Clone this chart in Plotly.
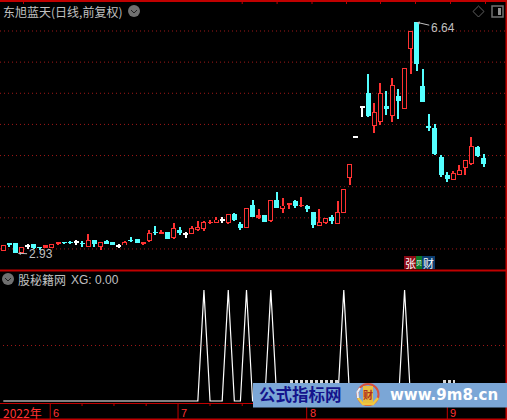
import plotly.graph_objects as go

opens = [2.972,3.085,3.096,2.93,3.042,3.075,3.03,3.02,3.02,3.084,3.11,3.11,3.107,3.09,3.036,3.139,3.036,3.128,3.111,3.047,
3.058,3.14,3.16,3.084,3.132,3.27,3.245,3.272,3.18,3.304,3.24,3.245,3.309,3.325,3.42,3.421,3.46,3.421,3.561,3.40,
3.341,3.706,3.513,3.545,3.454,3.786,3.646,3.706,3.77,3.695,3.69,3.593,3.373,3.421,3.513,3.40,3.582,4.144,4.793,5.275,
5.504,4.979,5.044,5.296,5.14,5.456,5.252,6.216,6.64,5.617,4.96,4.942,4.477,4.188,4.107,4.192,4.305,4.369,4.637,4.46]
closes = [3.063,3.075,2.94,3.026,3.042,3.02,3.02,3.059,3.075,3.107,3.10,3.10,3.107,3.08,3.139,3.075,3.107,3.084,3.068,3.047,
3.111,3.13,3.10,3.111,3.251,3.26,3.277,3.16,3.332,3.256,3.24,3.332,3.352,3.428,3.43,3.465,3.46,3.556,3.465,3.336,
3.653,3.513,3.545,3.433,3.781,3.658,3.69,3.738,3.69,3.705,3.641,3.385,3.433,3.492,3.449,3.588,3.958,4.359,4.793,5.275,
5.135,5.194,5.504,5.248,5.628,5.376,5.901,6.495,5.97,5.36,4.95,4.525,4.188,4.123,4.215,4.263,4.424,4.653,4.493,4.364]
highs = [3.063,3.096,3.096,3.026,3.079,3.075,3.03,3.068,3.075,3.107,3.11,3.128,3.144,3.128,3.24,3.139,3.107,3.144,3.111,3.079,
3.128,3.192,3.16,3.111,3.299,3.364,3.299,3.272,3.417,3.352,3.277,3.364,3.449,3.444,3.465,3.508,3.508,3.556,3.577,3.433,
3.653,3.786,3.641,3.545,3.781,3.915,3.818,3.738,3.786,3.834,3.706,3.593,3.641,3.492,3.545,3.77,3.958,4.359,4.793,5.275,
5.81,5.344,5.665,5.537,5.745,5.569,5.901,6.495,6.64,5.89,5.167,5.007,4.509,4.236,4.252,4.348,4.424,4.798,4.653,4.525]
lows = [2.972,3.031,2.94,2.93,3.004,2.994,2.983,3.02,3.02,3.063,3.075,3.075,3.068,3.031,3.036,3.031,2.988,3.084,3.068,3.015,
3.058,3.111,3.10,3.068,3.116,3.224,3.245,3.16,3.16,3.224,3.171,3.245,3.288,3.288,3.40,3.421,3.412,3.40,3.449,3.304,
3.341,3.513,3.481,3.433,3.437,3.658,3.577,3.641,3.658,3.674,3.593,3.336,3.373,3.40,3.40,3.40,3.582,4.027,4.793,5.124,
5.119,4.862,4.995,5.151,5.039,5.087,5.252,5.81,5.858,5.36,4.894,4.504,4.155,4.075,4.107,4.192,4.188,4.353,4.477,4.316]
xg = [0,0,0,0,0,0,0,0,0,0,0,0,0,0,0,0,0,0,0,0,
0,0,0,0,0,0,0,0,0,0,0,0,0,1,0,0,0,1,0,0,
1,0,0,0,1,0,0,0,0,0,0,0,0,0,0,0,1,0,0,0,
0,0,0,0,0,0,1,0,0,0,0,0,0,0,0,0,0,0,0,0]
price_grid = [6.5,6.0,5.5,5.0,4.5,4.0,3.5,3.0]
month_labels = ["6","7","8","9"]
month_pos = [7.72,28.74,49.9,73.03]
minor_pos = [12.95,18.2,23.5,34.0,39.3,44.55,55.0,60.3,65.5,70.8,78.3,83.5]
year_label = "2022年"
title_text = "东旭蓝天(日线,前复权)"
indicator_text = "股秘籍网"
xg_text = "XG: 0.00"

W, H = 507, 420
RED = "#ff3232"; CYAN = "#54ffff"; WHITE = "#ffffff"; DARKRED = "#c00000"; GREY = "#c0c0c0"
idx = list(range(len(opens)))
FONT = "Noto Sans CJK SC"
LATIN = "Liberation Sans"
ONE_PX = 0.016

def px(x): return x / W
def py(y): return 1 - y / H

kinds = ["w" if c == o else ("r" if c > o else "c") for o, c in zip(opens, closes)]
fig = go.Figure()
colors = {"r": RED, "c": CYAN, "w": WHITE}
# wicks
for k, col in colors.items():
    sel = [i for i in idx if kinds[i] == k and highs[i] > lows[i]]
    fig.add_trace(go.Bar(x=sel, y=[highs[i] - lows[i] for i in sel], base=[lows[i] for i in sel],
                         width=0.17, marker=dict(color=col, line=dict(width=0)), xaxis="x", yaxis="y"))
# red bodies: outer solid, then black interior
sel = [i for i in idx if kinds[i] == "r"]
fig.add_trace(go.Bar(x=sel, y=[closes[i] - opens[i] for i in sel], base=[opens[i] for i in sel], width=0.82,
                     marker=dict(color=RED, line=dict(width=0)), xaxis="x", yaxis="y"))
sel = [i for i in idx if kinds[i] == "r" and closes[i] - opens[i] > 2.5 * ONE_PX]
fig.add_trace(go.Bar(x=sel, y=[closes[i] - opens[i] - 2 * ONE_PX for i in sel], base=[opens[i] + ONE_PX for i in sel], width=0.49,
                     marker=dict(color="#000000", line=dict(width=0)), xaxis="x", yaxis="y"))
# solid cyan bodies
sel = [i for i in idx if kinds[i] == "c"]
fig.add_trace(go.Bar(x=sel, y=[opens[i] - closes[i] for i in sel], base=[closes[i] for i in sel], width=0.82,
                     marker=dict(color=CYAN, line=dict(width=0)), xaxis="x", yaxis="y"))
# white doji bars
sel = [i for i in idx if kinds[i] == "w"]
fig.add_trace(go.Bar(x=sel, y=[ONE_PX for i in sel], base=[opens[i] for i in sel], width=0.82,
                     marker=dict(color=WHITE, line=dict(width=0)), xaxis="x", yaxis="y"))
# indicator
fig.add_trace(go.Scatter(x=idx, y=xg, mode="lines", line=dict(color=WHITE, width=1.2), xaxis="x2", yaxis="y2"))

shapes = []
def rect(x0, y0, x1, y1, fill, lw=0, lc=None):
    shapes.append(dict(type="rect", xref="paper", yref="paper", x0=px(x0), y0=py(y0), x1=px(x1), y1=py(y1),
                       fillcolor=fill, line=dict(width=lw, color=lc or fill), layer="above"))
def path(d, fill=None, color="#808080", width=1):
    shapes.append(dict(type="path", xref="paper", yref="paper", path=d,
                       fillcolor=fill or "rgba(0,0,0,0)", line=dict(color=color, width=width), layer="above"))
def pts(lst):
    return "M " + " L ".join(f"{px(x):.5f},{py(y):.5f}" for x, y in lst)

# grid lines
for v in price_grid:
    shapes.append(dict(type="line", xref="paper", yref="y", x0=0, x1=px(505), y0=v, y1=v, layer="below",
                       line=dict(color="#a01818", width=1, dash="1px,3px")))
shapes.append(dict(type="line", xref="paper", yref="y2", x0=px(3), x1=px(505), y0=0.5, y1=0.5, layer="below",
                   line=dict(color="#a01818", width=1, dash="1px,3px")))
# frame
rect(0, 0, 507, 2, DARKRED)
rect(0, 269.5, 507, 271.5, DARKRED)
rect(505.5, 0, 507, 420, DARKRED)
rect(0, 403, 507, 404, DARKRED)
rect(0, 418.5, 507, 420, DARKRED)
for x in [23, 241.7, 276.6, 311.5, 346, 380, 415, 450, 485]:
    rect(x, 2, x + 1, 4, DARKRED)
# time axis ticks
for v in month_pos:
    shapes.append(dict(type="line", xref="x", yref="paper", x0=v, x1=v, y0=py(403), y1=py(419),
                       line=dict(color=DARKRED, width=1), layer="above"))
for v in minor_pos:
    shapes.append(dict(type="line", xref="x", yref="paper", x0=v, x1=v, y0=py(403), y1=py(406),
                       line=dict(color=DARKRED, width=1), layer="above"))
# header icons
def circ(cx, cy, r, fill, lc=None, lw=0):
    shapes.append(dict(type="circle", xref="paper", yref="paper", x0=px(cx - r), y0=py(cy - r), x1=px(cx + r), y1=py(cy + r),
                       fillcolor=fill, line=dict(width=lw, color=lc or fill), layer="above"))
for cx, cy in [(134, 11), (8, 279)]:
    circ(cx, cy, 6, "#707070")
    path(pts([(cx - 3, cy - 1), (cx, cy + 2), (cx + 3, cy - 1)]), color="#202020", width=1)
path(pts([(478.5, 6), (484, 11.5), (478.5, 17), (473, 11.5), (478.5, 6)]), color="#606060")
shapes.append(dict(type="rect", xref="paper", yref="paper", x0=px(492), y0=py(6), x1=px(503), y1=py(17),
                   line=dict(color="#707070", width=1.5), fillcolor="rgba(0,0,0,0)", layer="above"))
rect(498, 8, 501, 15, "#909090")
# badge
rect(404, 256, 416, 269, "#8b0a14")
rect(416, 256, 422, 269, "#0a7a28")
rect(422, 256, 435, 269, "#0b3c70")
# fragments of text peeking above the banner
for a, b in [(290, 340), (443, 455)]:
    shapes.append(dict(type="line", xref="paper", yref="paper", x0=px(a), x1=px(b), y0=py(381.5), y1=py(381.5), layer="above",
                       line=dict(color="#d8d8d8", width=3, dash="3px,2px")))
# watermark banner
rect(253, 383, 507, 407.5, "#7ba6d6")
circ(368, 394.5, 10.5, "rgba(0,0,0,0)", "#d8503c", 2)
path(pts([(378, 398), (373, 404), (363, 404), (358, 398)]), color="#f0c840", width=2.5)
path(pts([(358, 398), (357.5, 392), (360, 388)]), color="#e8f0f8", width=2)
rect(363, 386, 373, 403, "#e8c040")

anns = []
def text(x, y, s, size, color, anchor="left", bold=False, family=FONT):
    anns.append(dict(xref="paper", yref="paper", x=px(x), y=py(y), text=f"<b>{s}</b>" if bold else s, showarrow=False,
                     xanchor=anchor, yanchor="middle", xshift=0, font=dict(size=size, color=color, family=family),
                     borderpad=0, borderwidth=0))
text(3, 11, title_text, 12, GREY)
text(18, 279.5, indicator_text, 12, GREY)
text(71, 279.5, xg_text, 12, GREY, family=LATIN)
text(3, 412, year_label, 12, RED)
for v, s in zip(month_pos, month_labels):
    anns.append(dict(xref="x", yref="paper", x=v, y=py(413), text=s, showarrow=False, xanchor="left", xshift=1,
                     yanchor="middle", font=dict(size=11, color=RED, family=LATIN)))
hi_i = highs.index(max(highs)); lo_i = lows.index(min(lows))
anns.append(dict(xref="x", yref="y", x=hi_i, y=highs[hi_i], text=f"{highs[hi_i]:.2f}", showarrow=True, arrowhead=2, arrowsize=0.6,
                 arrowwidth=1, arrowcolor=GREY, ax=26, ay=6, font=dict(size=12, color=GREY, family=LATIN)))
anns.append(dict(xref="x", yref="y", x=lo_i - 0.6, y=lows[lo_i], text=f"{lows[lo_i]:.2f}", showarrow=True, arrowhead=2, arrowsize=0.6,
                 arrowwidth=1, arrowcolor=GREY, ax=22.7, ay=1, font=dict(size=12, color=GREY, family=LATIN)))
text(410, 262.5, "张", 11, WHITE, "center")
text(419, 262.5, "贝", 6, WHITE, "center")
text(428.5, 262.5, "财", 11, WHITE, "center")
text(259, 393.5, "公式指标网", 16.5, "#14148c", bold=True)
text(368, 394.5, "财", 10, "#b03020", "center", bold=True)
text(390, 395, "www.9m8.cn", 15, "#ffffff", bold=True, family="DejaVu Sans")

x_range = [-3.3 / 6.08, (507 - 3.3) / 6.08]
fig.update_layout(
    width=W, height=H, margin=dict(l=0, r=0, t=0, b=0), paper_bgcolor="#000000", plot_bgcolor="#000000",
    showlegend=False, barmode="overlay", bargap=0, shapes=shapes, annotations=anns,
    xaxis=dict(domain=[0, 1], range=x_range, visible=False),
    xaxis2=dict(domain=[0, 1], range=x_range, visible=False, anchor="y2"),
    yaxis=dict(domain=[py(270), 1], range=[2.662, 6.998], visible=False),
    yaxis2=dict(domain=[py(403), py(271)], range=[-0.018, 1.171], visible=False, anchor="x2"),
)
fig.write_html("out.html", config={"displayModeBar": False},
               post_script="document.body.style.margin='0';document.body.style.background='#000';")
